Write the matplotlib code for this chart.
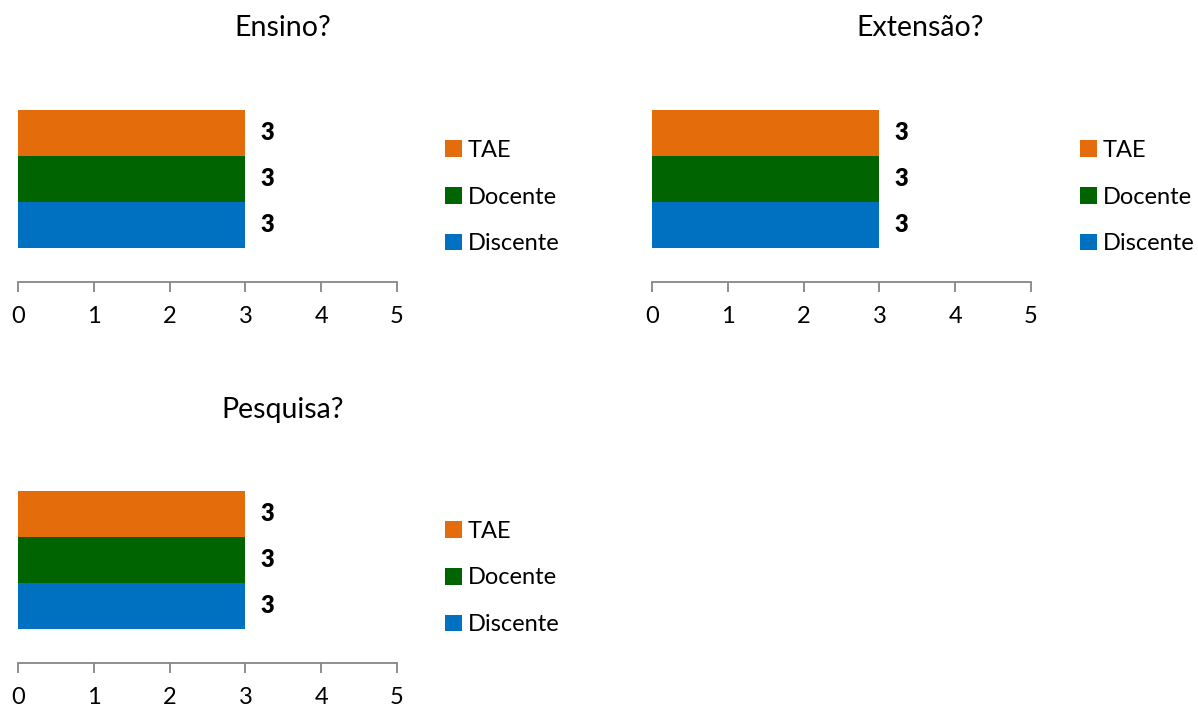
import matplotlib
matplotlib.use("Agg")
import matplotlib.pyplot as plt
from matplotlib.patches import Patch

categories = ["Discente", "Docente", "TAE"]
colors = ["#0070C0", "#006400", "#E46C0A"]
titles = ["Ensino?", "Extensão?", "Pesquisa?"]
values_ensino = [3, 3, 3]
values_extensao = [3, 3, 3]
values_pesquisa = [3, 3, 3]
xticks = [0, 1, 2, 3, 4, 5]

plt.rcParams['font.family'] = ['Lato', 'DejaVu Sans']
W, H = 1198, 709
fig = plt.figure(figsize=(W / 100, H / 100), dpi=100)

def px_axes(left, right, top, bottom):
    return fig.add_axes([left / W, 1 - bottom / H, (right - left) / W, (bottom - top) / H])

panels = [
    dict(vals=values_ensino, title=titles[0], left=18, right=397, top=110, bottom=282, tx=283, ty=28, lx=445),
    dict(vals=values_extensao, title=titles[1], left=652, right=1031, top=110, bottom=282, tx=920, ty=28, lx=1080),
    dict(vals=values_pesquisa, title=titles[2], left=18, right=397, top=491, bottom=663, tx=283, ty=410, lx=445),
]

gray = "#868686"
for p in panels:
    ax = px_axes(p['left'], p['right'], p['top'], p['bottom'])
    y = list(range(len(categories)))
    ax.barh(y, p['vals'], height=1.0, color=colors, edgecolor='none')
    for yi, v in zip(y, p['vals']):
        ax.text(v + 0.2, yi, str(v), va='center', ha='left', fontsize=17, fontweight='heavy', color='black')
    ax.set_xlim(0, 5)
    ax.set_ylim(-1.24, 2.5)
    ax.set_xticks(xticks)
    ax.set_xticklabels([str(t) for t in xticks], fontsize=17)
    ax.set_yticks([])
    for s in ['top', 'right', 'left']:
        ax.spines[s].set_visible(False)
    ax.spines['bottom'].set_color(gray)
    ax.spines['bottom'].set_linewidth(1.3)
    ax.tick_params(axis='x', direction='out', length=7, width=1.3, color=gray, pad=10)
    ax.patch.set_alpha(0)
    fig.text(p['tx'] / W, 1 - p['ty'] / H, p['title'], ha='center', va='center', fontsize=20.5)
    handles = [Patch(facecolor=colors[i], edgecolor='none', label=categories[i]) for i in [2, 1, 0]]
    cy = (p['top'] + 87)
    fig.legend(handles=handles, loc='center left', bbox_to_anchor=(p['lx'] / W, 1 - cy / H),
               frameon=False, fontsize=17, handlelength=0.7, handleheight=0.7,
               handletextpad=0.25, labelspacing=1.1, borderpad=0, borderaxespad=0)

fig.savefig("out.png", dpi=100)
